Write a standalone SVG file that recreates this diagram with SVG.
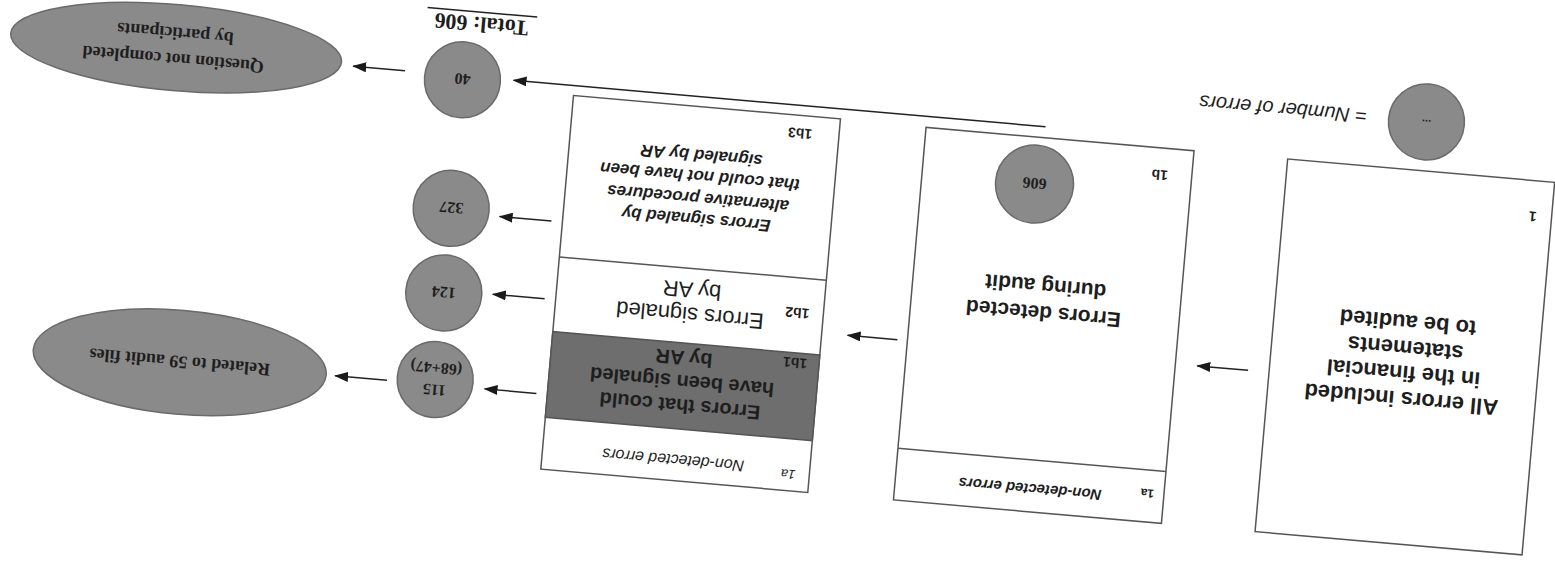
<svg xmlns="http://www.w3.org/2000/svg" width="1555" height="564" viewBox="0 0 1555 564">
<defs>
<marker id="ah" markerWidth="14" markerHeight="10" refX="13" refY="5" orient="auto" markerUnits="userSpaceOnUse"><path d="M0,0 L14,5 L0,10 z" fill="#1a1a1a"/></marker>
<style>
.box{fill:#fff;stroke:#555;stroke-width:1.5}
.dark{fill:#6e6e6e;stroke:#555;stroke-width:1.5}
.num{fill:#8a8a8a;stroke:#6a6a6a;stroke-width:1.5}
.sans{font-family:"Liberation Sans",Arial,sans-serif;fill:#1e1e1e}
.b{font-weight:bold}
.i{font-style:italic}
.serif{font-family:"Liberation Serif","Times New Roman",serif;font-weight:bold;fill:#1e1e1e}
.conn{stroke:#222;stroke-width:1.5;fill:none}
</style>
</defs>
<rect width="1555" height="564" fill="#fff"/>
<g transform="rotate(185 777.5 282)">
<g id="node-all-errors">
<rect class="box" x="12" y="75" width="268" height="374"/>
<text class="sans b" font-size="22" text-anchor="middle" x="146"><tspan x="146" y="227">All errors included</tspan><tspan x="146" y="253">in the financial</tspan><tspan x="146" y="278">statements</tspan><tspan x="146" y="304">to be audited</tspan></text>
<text class="sans b" font-size="14" x="27" y="418">1</text>
</g>
<g id="node-detected">
<rect class="box" x="374" y="75" width="269" height="374"/>
<line class="box" x1="374" y1="127" x2="643" y2="127"/>
<text class="sans b" font-size="12" x="384" y="108">1a</text>
<text class="sans b i" font-size="15" text-anchor="middle" x="508" y="103">Non-detected errors</text>
<text class="sans b" font-size="21" text-anchor="middle"><tspan x="510" y="281">Errors detected</tspan><tspan x="510" y="308">during audit</tspan></text>
<text class="sans b" font-size="14" x="398" y="427">1b</text>
<circle class="num" cx="530" cy="402" r="39"/>
<text class="serif" font-size="16" text-anchor="middle" x="530" y="408">606</text>
</g>
<g id="node-breakdown">
<rect class="box" x="729" y="75" width="268" height="375"/>
<rect class="dark" x="729" y="127" width="268" height="86"/>
<line class="box" x1="729" y1="288" x2="997" y2="288"/>
<text class="sans i" font-size="13" x="743" y="96">1a</text>
<text class="sans i" font-size="16" text-anchor="middle" x="866" y="101">Non-detected errors</text>
<text class="sans b" font-size="20" text-anchor="middle"><tspan x="864" y="157">Errors that could</tspan><tspan x="864" y="181">have been signaled</tspan><tspan x="864" y="205">by AR</tspan></text>
<text class="sans b" font-size="14" x="741" y="208">1b1</text>
<text class="sans" font-size="22" text-anchor="middle"><tspan x="862" y="249">Errors signaled</tspan><tspan x="862" y="274">by AR</tspan></text>
<text class="sans b" font-size="14" x="743" y="258">1b2</text>
<text class="sans b i" font-size="17" text-anchor="middle"><tspan x="864" y="343">Errors signaled by</tspan><tspan x="864" y="364">alternative procedures</tspan><tspan x="864" y="386">that could not have been</tspan><tspan x="864" y="407">signaled by AR</tspan></text>
<text class="sans b" font-size="14" x="756" y="437">1b3</text>
</g>
<g id="node-115">
<circle class="num" cx="1110" cy="155" r="38"/>
<text class="serif" font-size="16" text-anchor="middle"><tspan x="1110" y="150">115</tspan><tspan x="1110" y="172">(68+47)</tspan></text>
</g>
<g id="node-124">
<circle class="num" cx="1109" cy="242" r="38"/>
<text class="serif" font-size="16" text-anchor="middle" x="1109" y="248">124</text>
</g>
<g id="node-327">
<circle class="num" cx="1109" cy="327" r="38"/>
<text class="serif" font-size="16" text-anchor="middle" x="1109" y="333">327</text>
</g>
<g id="node-40">
<circle class="num" cx="1109" cy="456" r="38"/>
<text class="serif" font-size="16" text-anchor="middle" x="1109" y="462">40</text>
</g>
<g id="node-related">
<ellipse class="num" cx="1366" cy="150" rx="147" ry="52"/>
<text class="serif" font-size="18" text-anchor="middle" x="1366" y="156">Related to 59 audit files</text>
</g>
<g id="node-question">
<ellipse class="num" cx="1397" cy="463" rx="166" ry="43"/>
<text class="serif" font-size="18" text-anchor="middle"><tspan x="1399" y="457">Question not completed</tspan><tspan x="1399" y="483">by participants</tspan></text>
</g>
<g id="node-total">
<text class="serif" font-size="22" text-anchor="middle" x="1095" y="520">Total: 606</text>
<line x1="1040" y1="525" x2="1150" y2="525" stroke="#222" stroke-width="1.5"/>
</g>
<g id="node-legend">
<circle class="num" cx="145" cy="498" r="38"/>
<text class="sans b" font-size="11" text-anchor="middle" x="145" y="500">...</text>
<text class="sans i" font-size="20" text-anchor="middle" x="289" y="505">= Number of errors</text>
</g>
<g id="connectors">
<line class="conn" x1="301" y1="235" x2="352" y2="235" marker-end="url(#ah)"/>
<line class="conn" x1="653" y1="235" x2="703" y2="235" marker-end="url(#ah)"/>
<line class="conn" x1="1008" y1="150" x2="1060" y2="150" marker-end="url(#ah)"/>
<line class="conn" x1="1008" y1="245" x2="1060" y2="245" marker-end="url(#ah)"/>
<line class="conn" x1="1008" y1="323" x2="1060" y2="323" marker-end="url(#ah)"/>
<line class="conn" x1="524" y1="460" x2="1058" y2="460" marker-end="url(#ah)"/>
<line class="conn" x1="1158" y1="150" x2="1210" y2="150" marker-end="url(#ah)"/>
<line class="conn" x1="1167" y1="460" x2="1219" y2="460" marker-end="url(#ah)"/>
</g>
</g>
</svg>
